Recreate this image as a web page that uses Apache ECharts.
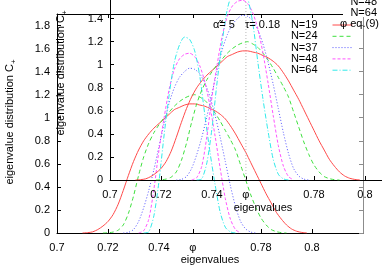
<!DOCTYPE html>
<html><head><meta charset="utf-8">
<script src="https://cdn.jsdelivr.net/npm/echarts@6/dist/echarts.min.js"></script>
<style>html,body{margin:0;padding:0;background:#fff}#c{width:382px;height:267px}</style>
</head><body><div id="c"></div>
<script>
// ---- data ----
const eigenvalues = [0.708,0.710,0.712,0.714,0.716,0.718,0.720,0.722,0.724,0.726,0.728,0.730,0.732,0.734,0.736,0.738,0.740,0.742,0.744,0.746,0.748,0.750,0.752,0.754,0.756,0.758,0.760,0.762,0.764,0.766,0.768,0.770,0.772,0.774,0.776,0.778,0.780,0.782,0.784,0.786,0.788,0.790,0.792,0.794,0.796,0.798,0.800];
const distN19 = [null,0,0.003,0.01,0.03,0.06,0.10,0.16,0.25,0.37,0.50,0.62,0.72,0.80,0.86,0.91,0.95,0.99,1.03,1.07,1.09,1.11,1.12,1.12,1.11,1.10,1.08,1.06,1.03,0.99,0.93,0.86,0.78,0.70,0.61,0.52,0.43,0.34,0.26,0.18,0.12,0.07,0.035,0.015,0.005,0,null];
const distN24 = [null,null,null,null,null,0,0.002,0.008,0.025,0.07,0.17,0.32,0.50,0.66,0.78,0.87,0.94,1.00,1.05,1.10,1.14,1.17,1.19,1.20,1.18,1.15,1.10,1.04,0.97,0.89,0.81,0.72,0.59,0.46,0.33,0.22,0.13,0.07,0.03,0.012,0.003,0,null,null,null,null,null];
const distN37 = [null,null,null,null,null,null,null,null,null,0,0.005,0.03,0.10,0.22,0.37,0.55,0.75,0.95,1.13,1.26,1.35,1.40,1.43,1.42,1.38,1.30,1.18,1.02,0.83,0.62,0.41,0.23,0.10,0.035,0.008,0,null,null,null,null,null,null,null,null,null,null,null];
const distN48 = [null,null,null,null,null,null,null,null,null,null,null,null,0,0.02,0.12,0.38,0.72,1.00,1.25,1.42,1.51,1.55,1.56,1.53,1.45,1.31,1.10,0.84,0.56,0.30,0.12,0.03,0,null,null,null,null,null,null,null,null,null,null,null,null,null,null];
const distN64 = [null,null,null,null,null,null,null,null,null,null,null,null,null,0,0.01,0.15,0.45,0.85,1.20,1.48,1.63,1.70,1.68,1.58,1.36,1.02,0.70,0.42,0.18,0.05,0.01,0,null,null,null,null,null,null,null,null,null,null,null,null,null,null,null];
const seriesNames = ['N=19','N=24','N=37','N=48','N=64'];
const PHI = 0.7533;
const xTickValues = [0.7, 0.72, 0.74, PHI, 0.78, 0.8];
const yTickValues = [0, 0.2, 0.4, 0.6, 0.8, 1, 1.2, 1.4, 1.6, 1.8];
const phiLineY = [0, 1.9];

// ---- styles ----
const FONT = 'Liberation Sans';
const colors = ['#ff4a4a', '#3ee03e', '#5555ff', '#ff55ff', '#30eaea'];
const dashes = ['solid', [4, 3], [1, 2], [3, 2], [5, 2, 1, 2]];
const allDist = [distN19, distN24, distN37, distN48, distN64];

const fmt = v => Math.abs(v - PHI) < 1e-6 ? 'φ' : String(+(+v).toFixed(2));

function xAx(grid, pos, labels, z) {
  return {gridIndex: grid, type: 'value', min: 0.7, max: 0.82, position: pos, z: z,
    axisLine: {onZero: false, lineStyle: {color: '#000', width: 1}},
    axisTick: {inside: true, length: 4, customValues: xTickValues, lineStyle: {color: '#000'}},
    axisLabel: {show: labels, customValues: xTickValues, formatter: fmt, margin: 9, color: '#000', fontSize: 11, fontFamily: FONT},
    splitLine: {show: false}};
}
function yAx(grid, pos, labels, z, lineColor) {
  return {gridIndex: grid, type: 'value', min: 0, max: 1.9, position: pos, z: z,
    axisLine: {onZero: false, lineStyle: {color: lineColor, width: 1}},
    axisTick: {inside: true, length: 4, customValues: yTickValues, lineStyle: {color: lineColor}},
    axisLabel: {show: labels, customValues: yTickValues, formatter: fmt, margin: 7, color: '#000', fontSize: 11, fontFamily: FONT},
    splitLine: {show: false}};
}

const series = [];
[0, 1].forEach(function (g) {
  allDist.forEach(function (vals, i) {
    series.push({type: 'line', name: seriesNames[i],
      xAxisIndex: g === 0 ? 0 : 2, yAxisIndex: g === 0 ? 0 : 2,
      data: eigenvalues.map((x, k) => [x, vals[k]]),
      symbol: 'none', showSymbol: false, smooth: 0.25, connectNulls: false,
      lineStyle: {color: colors[i], width: 1, type: dashes[i]}, itemStyle: {color: colors[i]},
      z: g === 0 ? 2 : 4, silent: true, animation: false});
  });
});
series.push({type: 'line', name: 'φ eq.(9)', xAxisIndex: 2, yAxisIndex: 2,
  data: phiLineY.map(y => [PHI, y]), symbol: 'none',
  lineStyle: {color: '#b8b8b8', width: 1, type: [1, 2]}, z: 3, silent: true, animation: false});

function txt(x, y, text, align, extra) {
  return Object.assign({type: 'text', x: x, y: y, z: 60,
    style: {text: text, fill: '#000', font: '11px "' + FONT + '"', align: align || 'left', verticalAlign: 'middle'}}, extra || {});
}
function ylab(x, y) {
  return {type: 'text', x: x, y: y, rotation: Math.PI / 2, z: 60,
    style: {text: '{a|eigenvalue distribution C}{b|+}', align: 'center', verticalAlign: 'middle', fill: '#000',
      rich: {a: {fontSize: 11, fontFamily: FONT, lineHeight: 16, fill: '#000'},
             b: {fontSize: 8, fontFamily: FONT, lineHeight: 8, verticalAlign: 'bottom', fill: '#000'}}}};
}

const chart = echarts.init(document.getElementById('c'), null, {renderer: 'canvas', width: 382, height: 267});
chart.setOption({
  animation: false,
  backgroundColor: '#fff',
  grid: [
    {left: 57, top: 14, width: 306, height: 219, outerBoundsMode: 'none'},
    {left: 110, top: -39, width: 306, height: 219, outerBoundsMode: 'none'}
  ],
  xAxis: [xAx(0, 'bottom', true, 0), xAx(0, 'top', false, 0), xAx(1, 'bottom', true, 3)],
  yAxis: [yAx(0, 'left', true, 0, '#000'), yAx(0, 'right', false, 0, '#8c8c8c'), yAx(1, 'left', true, 3, '#000')],
  legend: {data: seriesNames, orient: 'vertical', align: 'right', right: 29, top: 19.5, padding: 0,
    itemWidth: 20, itemHeight: 10, itemGap: 0.3, selectedMode: false,
    itemStyle: {opacity: 0, borderWidth: 0, color: 'transparent', borderColor: 'transparent'},
    lineStyle: {width: 1},
    textStyle: {fontSize: 11, fontFamily: FONT, color: '#000', lineHeight: 10.5, padding: [0, 10, 0, 0]}},
  graphic: [
    {type: 'rect', shape: {x: 343, y: 0, width: 39, height: 17}, style: {fill: '#fff'}, z: 50},
    txt(377, 2, 'N=48', 'right'),
    txt(377, 12.5, 'N=64', 'right'),
    txt(213, 25, 'α̃= 5', 'left'),
    txt(245, 25, 'τ= 0.18', 'left'),
    txt(340, 24, 'φ eq.(9)', 'left'),
    txt(210, 260, 'eigenvalues', 'center'),
    txt(263, 208, 'eigenvalues', 'center'),
    ylab(10, 122),
    ylab(61, 73)
  ],
  series: series
});
</script>
</body></html>
